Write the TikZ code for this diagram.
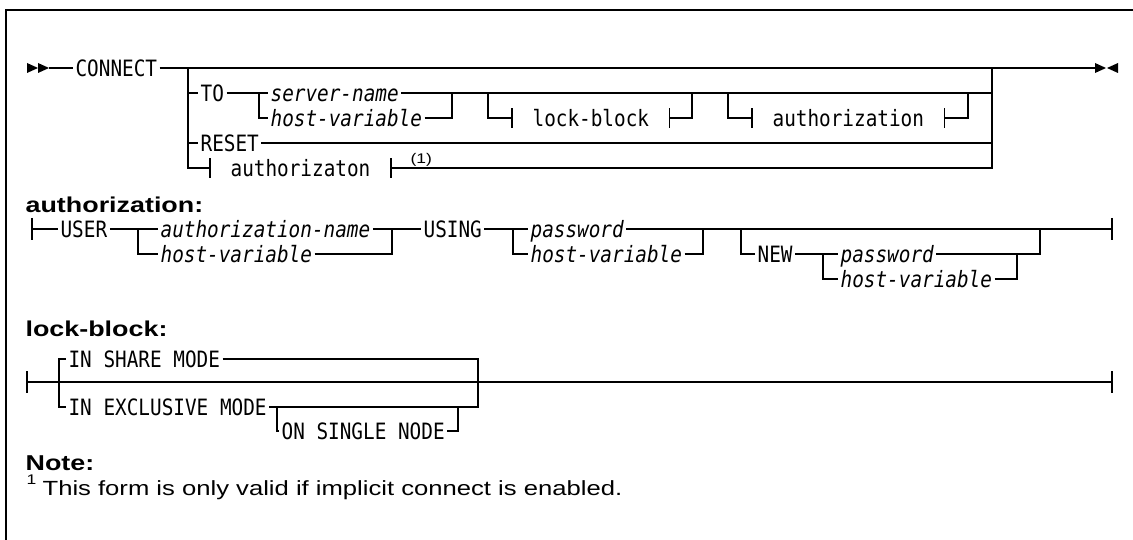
\documentclass[tikz,border=0pt]{standalone}
\usepackage{fontspec}
\setmainfont[FakeStretch=1.25]{Liberation Sans}
\setmonofont[FakeStretch=0.86]{DejaVu Sans Mono}
\usetikzlibrary{positioning}

\begin{document}
\begin{tikzpicture}[x=1pt, y=-1pt, line width=1.2pt,
    syn/.style={anchor=west, inner xsep=2pt, inner ysep=2pt,
                font=\fontsize{22.5}{25}\selectfont\ttfamily,
                text height=16.4pt, text depth=0pt},
    synvar/.style={syn, font=\fontsize{22.5}{25}\selectfont\ttfamily\itshape},
    frag/.style={syn, inner xsep=20pt},
    head/.style={anchor=base west, inner sep=0pt, font=\fontsize{21.5}{24}\selectfont\bfseries},
    notetext/.style={anchor=base west, inner sep=0pt, font=\fontsize{20.5}{24}\selectfont},
    fnmark/.style={anchor=south west, inner sep=0pt, font=\fontsize{14}{16}\selectfont}
  ]
  \useasboundingbox (0,0) rectangle (1133,540);
  \draw[line width=1.5pt] (6,540) -- (6,10) -- (1133,10);

  % CONNECT statement
  \fill (27,63) -- (38,68) -- (27,73) -- cycle;
  \fill (38,63) -- (49,68) -- (38,73) -- cycle;
  \coordinate (st) at (49,68);
  \node[syn] (connect) at (73,68) {CONNECT};
  \coordinate (bl) at (188,68);
  \coordinate (br) at (992,68);
  \coordinate (en) at (1095,68);
  \draw (st) -- (connect) -- (en);
  \fill (1095,63) -- (1106,68) -- (1095,73) -- cycle;
  \fill (1118,63) -- (1107,68) -- (1118,73) -- cycle;

  \node[syn] (to) at (198,93) {TO};
  \coordinate (c1l) at (259,93);
  \node[synvar] (srv) at (268,93) {server-name};
  \node[synvar] (hv1) at (268,118) {host-variable};
  \coordinate (c1r) at (452,93);
  \coordinate (o1l) at (488,93);
  \node[frag] (lb) at (512,118) {lock-block};
  \coordinate (o1r) at (692,93);
  \coordinate (o2l) at (728,93);
  \node[frag] (az) at (752,118) {authorization};
  \coordinate (o2r) at (968,93);
  \node[syn] (reset) at (198,143) {RESET};
  \node[frag] (fa) at (210,168) {authorizaton};
  \node[fnmark] (fn1) at (410,167) {(1)};

  \draw (bl) |- (to);
  \draw (to) -- (srv) -| (br);
  \draw (c1l) |- (hv1);
  \draw (hv1) -| (c1r);
  \draw (o1l) |- (lb);
  \draw (lb) -| (o1r);
  \draw (o2l) |- (az);
  \draw (az) -| (o2r);
  \draw (bl) |- (reset);
  \draw (reset) -| (br);
  \draw (bl) |- (fa);
  \draw (fa) -| (br);
  \foreach \n in {lb, az, fa} {
    \draw ([yshift=-1pt]\n.north west) -- ([yshift=1pt]\n.south west);
    \draw ([yshift=-1pt]\n.north east) -- ([yshift=1pt]\n.south east);
  }

  % authorization fragment
  \node[head] (hauth) at (25,213) {authorization:};
  \coordinate (as) at (32,229);
  \draw (32,218) -- (32,240);
  \node[syn] (user) at (58,229) {USER};
  \coordinate (c2l) at (138,229);
  \node[synvar] (aname) at (158,229) {authorization-name};
  \node[synvar] (hv2) at (158,254) {host-variable};
  \coordinate (c2r) at (392,229);
  \node[syn] (using) at (421,229) {USING};
  \coordinate (c3l) at (513,229);
  \node[synvar] (pw1) at (528,229) {password};
  \node[synvar] (hv3) at (528,254) {host-variable};
  \coordinate (c3r) at (703,229);
  \coordinate (o3l) at (741,229);
  \node[syn] (new) at (755,254) {NEW};
  \coordinate (c4l) at (823,254);
  \node[synvar] (pw2) at (838,254) {password};
  \node[synvar] (hv4) at (838,279) {host-variable};
  \coordinate (c4r) at (1017,254);
  \coordinate (o3r) at (1040,229);
  \coordinate (ae) at (1112,229);
  \draw (1112,218) -- (1112,240);

  \draw (as) -- (user) -- (aname) -- (using) -- (pw1) -- (ae);
  \draw (c2l) |- (hv2);
  \draw (hv2) -| (c2r);
  \draw (c3l) |- (hv3);
  \draw (hv3) -| (c3r);
  \draw (o3l) |- (new);
  \draw (new) -- (pw2) -| (o3r);
  \draw (c4l) |- (hv4);
  \draw (hv4) -| (c4r);

  % lock-block fragment
  \node[head] (hlock) at (25,336) {lock-block:};
  \coordinate (ls) at (27,382);
  \coordinate (le) at (1112,382);
  \draw (27,371) -- (27,393);
  \draw (1112,371) -- (1112,393);
  \coordinate (c5l) at (59,382);
  \node[syn] (share) at (66,359) {IN SHARE MODE};
  \node[syn] (excl) at (66,407) {IN EXCLUSIVE MODE};
  \coordinate (c5r) at (478,382);
  \coordinate (o4l) at (277,407);
  \node[syn] (single) at (279,431) {ON SINGLE NODE};
  \coordinate (o4r) at (458,407);
  \draw (ls) -- (le);
  \draw (c5l) |- (share);
  \draw (share) -| (c5r);
  \draw (c5l) |- (excl);
  \draw (excl) -| (c5r);
  \draw (o4l) |- (single);
  \draw (single) -| (o4r);

  % note
  \node[head] (hnote) at (25,470) {Note:};
  \node[fnmark] (sup1) at (26,485) {1};
  \node[notetext] (ntext) at (42,495) {This form is only valid if implicit connect is enabled.};
\end{tikzpicture}
\end{document}
